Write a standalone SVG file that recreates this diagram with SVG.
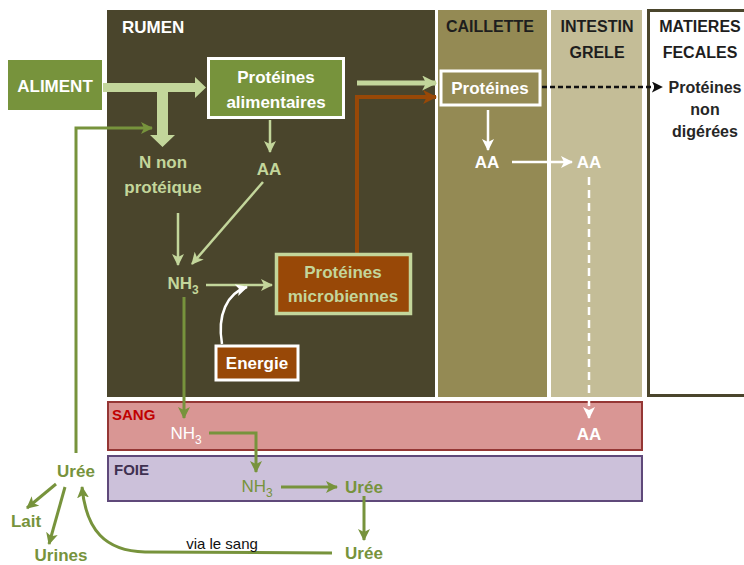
<svg xmlns="http://www.w3.org/2000/svg" width="744" height="565" viewBox="0 0 744 565">
<style>
text{font-family:"Liberation Sans",Arial,sans-serif;font-weight:bold;font-size:17px;text-anchor:middle}
.hd{fill:#1e1e1e;font-size:16px}
.w{fill:#ffffff}
.lg{fill:#c3d69b}
.g{fill:#77933c}
.dk{fill:#262626}
.ln-lg{stroke:#c3d69b;stroke-width:2.5;fill:none}
.ln-g{stroke:#77933c;stroke-width:3;fill:none}
.ln-w{stroke:#ffffff;stroke-width:2.5;fill:none}
.sub{font-size:12px}
</style>
<defs>
<marker id="aLG" markerUnits="userSpaceOnUse" markerWidth="12" markerHeight="12" viewBox="0 0 12 12" refX="11" refY="6" orient="auto"><path d="M0,0 L12,6 L0,12 L3,6 Z" fill="#c3d69b"/></marker>
<marker id="aLG2" markerUnits="userSpaceOnUse" markerWidth="15" markerHeight="15" viewBox="0 0 12 12" refX="11" refY="6" orient="auto"><path d="M0,0 L12,6 L0,12 L3,6 Z" fill="#c3d69b"/></marker>
<marker id="aG" markerUnits="userSpaceOnUse" markerWidth="12" markerHeight="12" viewBox="0 0 12 12" refX="11" refY="6" orient="auto"><path d="M0,0 L12,6 L0,12 L3,6 Z" fill="#77933c"/></marker>
<marker id="aW" markerUnits="userSpaceOnUse" markerWidth="12" markerHeight="12" viewBox="0 0 12 12" refX="11" refY="6" orient="auto"><path d="M0,0 L12,6 L0,12 L3,6 Z" fill="#ffffff"/></marker>
<marker id="aK" markerUnits="userSpaceOnUse" markerWidth="11" markerHeight="11" viewBox="0 0 12 12" refX="11" refY="6" orient="auto"><path d="M0,0 L12,6 L0,12 L3,6 Z" fill="#111111"/></marker>
<marker id="aB" markerUnits="userSpaceOnUse" markerWidth="14" markerHeight="14" viewBox="0 0 12 12" refX="11" refY="6" orient="auto"><path d="M0,0 L12,6 L0,12 L3,6 Z" fill="#984807"/></marker>
</defs>

<!-- compartments -->
<g id="rumen"><rect x="107" y="10" width="328" height="387" fill="#4a452c"/><text x="122" y="33" class="w" style="text-anchor:start">RUMEN</text></g>
<g id="caillette"><rect x="438" y="10" width="109" height="387" fill="#948a54"/><text x="490" y="32" class="hd">CAILLETTE</text></g>
<g id="intestin"><rect x="551" y="10" width="91" height="387" fill="#c4bd97"/><text x="597" y="32" class="hd">INTESTIN</text><text x="597" y="58" class="hd">GRELE</text></g>
<g id="matieres"><rect x="648.5" y="10.5" width="100" height="385" fill="#ffffff" stroke="#4a452c" stroke-width="3"/><text x="700" y="32" class="hd">MATIERES</text><text x="700" y="58" class="hd">FECALES</text></g>
<g id="sang"><rect x="108" y="402" width="534" height="48" fill="#d99694" stroke="#953735" stroke-width="2"/><text x="112" y="420" style="fill:#c00000;font-size:15px;text-anchor:start">SANG</text></g>
<g id="foie"><rect x="108" y="456" width="534" height="45" fill="#ccc1da" stroke="#5f497a" stroke-width="2"/><text x="114" y="475" style="fill:#3f3151;font-size:15px;text-anchor:start">FOIE</text></g>

<!-- connectors -->
<g id="connectors">
<path d="M103,83 H195 V77 L206,87.5 L195,98 V92 H103 Z" fill="#c3d69b"/>
<path d="M157,92 H168 V135 H175 L162.5,147 L150,135 H157 Z" fill="#c3d69b"/>
<line x1="270" y1="120" x2="270" y2="152" class="ln-lg" marker-end="url(#aLG)"/>
<line x1="178" y1="213" x2="178" y2="265" class="ln-lg" marker-end="url(#aLG)"/>
<line x1="263" y1="182" x2="192" y2="264" class="ln-lg" marker-end="url(#aLG)"/>
<line x1="206" y1="285" x2="272" y2="285" class="ln-lg" marker-end="url(#aLG)"/>
<path d="M222,344 C217,315 227,293 247,287" class="ln-w" marker-end="url(#aW)"/>
<line x1="357" y1="83" x2="436" y2="83" class="ln-lg" style="stroke-width:5" marker-end="url(#aLG2)"/>
<path d="M357,253 V97 H436" fill="none" stroke="#984807" stroke-width="4" marker-end="url(#aB)"/>
<line x1="488" y1="110" x2="488" y2="150" class="ln-w" marker-end="url(#aW)"/>
<line x1="512" y1="162" x2="572" y2="162" class="ln-w" marker-end="url(#aW)"/>
<line x1="589" y1="177" x2="589" y2="418" class="ln-w" style="stroke-dasharray:8 5" marker-end="url(#aW)"/>
<line x1="542" y1="87" x2="662" y2="87" stroke="#111111" stroke-width="2.5" stroke-dasharray="5 3" marker-end="url(#aK)"/>
<path d="M76,453 V128 H152" class="ln-g" marker-end="url(#aG)"/>
<line x1="184" y1="297" x2="184" y2="418" class="ln-g" marker-end="url(#aG)"/>
<path d="M209,433 H256 V472" class="ln-g" marker-end="url(#aG)"/>
<line x1="281" y1="487" x2="337" y2="487" class="ln-g" marker-end="url(#aG)"/>
<line x1="364" y1="496" x2="364" y2="540" class="ln-g" marker-end="url(#aG)"/>
<path d="M332,553 L145,552 C105,551 86,530 82,487" class="ln-g" marker-end="url(#aG)"/>
<line x1="56" y1="484" x2="27" y2="508" class="ln-g" marker-end="url(#aG)"/>
<line x1="65" y1="487" x2="49" y2="544" class="ln-g" marker-end="url(#aG)"/>
</g>

<!-- nodes -->
<g id="aliment"><rect x="8" y="60" width="94" height="50" fill="#77933c"/><text x="55" y="92" class="w">ALIMENT</text></g>
<g id="proteines-alimentaires"><rect x="208.5" y="58.5" width="135" height="59" fill="#77933c" stroke="#ffffff" stroke-width="3"/><text x="276" y="83" class="w">Protéines</text><text x="276" y="108" class="w">alimentaires</text></g>
<g id="aa-rumen"><text x="269" y="175" class="lg">AA</text></g>
<g id="nnp"><text x="163" y="168" class="lg">N non</text><text x="163" y="193" class="lg">protéique</text></g>
<g id="nh3-rumen"><text x="183" y="289" class="lg">NH<tspan class="sub" dy="5">3</tspan></text></g>
<g id="proteines-microbiennes"><rect x="276.5" y="254.5" width="134" height="59" fill="#984807" stroke="#c3d69b" stroke-width="3.5"/><text x="343" y="278" class="lg">Protéines</text><text x="343" y="302" class="lg">microbiennes</text></g>
<g id="energie"><rect x="216" y="346" width="82" height="34" fill="#984807" stroke="#ffffff" stroke-width="3"/><text x="257" y="369" class="w">Energie</text></g>
<g id="proteines-caillette"><rect x="441" y="71" width="99" height="34" fill="#948a54" stroke="#ffffff" stroke-width="3"/><text x="490" y="94" class="w">Protéines</text></g>
<g id="aa-caillette"><text x="487" y="168" class="w">AA</text></g>
<g id="aa-intestin"><text x="589" y="168" class="w">AA</text></g>
<g id="proteines-non-digerees"><text x="705" y="93" class="dk" style="font-size:16px">Protéines</text><text x="705" y="115" class="dk" style="font-size:16px">non</text><text x="705" y="137" class="dk" style="font-size:16px">digérées</text></g>
<g id="nh3-sang"><text x="186" y="439" class="w" style="font-weight:normal">NH<tspan class="sub" dy="5">3</tspan></text></g>
<g id="aa-sang"><text x="589" y="440" class="w">AA</text></g>
<g id="nh3-foie"><text x="257" y="492" class="g" style="font-weight:normal">NH<tspan class="sub" dy="5">3</tspan></text></g>
<g id="uree-foie"><text x="364" y="493" class="g">Urée</text></g>
<g id="uree-sang"><text x="364" y="559" class="g">Urée</text></g>
<g id="uree"><text x="76" y="477" class="g">Urée</text></g>
<g id="lait"><text x="26" y="527" class="g">Lait</text></g>
<g id="urines"><text x="61" y="561" class="g">Urines</text></g>
<g id="via"><text x="222" y="549" style="font-weight:normal;font-size:15px;fill:#111">via le sang</text></g>
</svg>
